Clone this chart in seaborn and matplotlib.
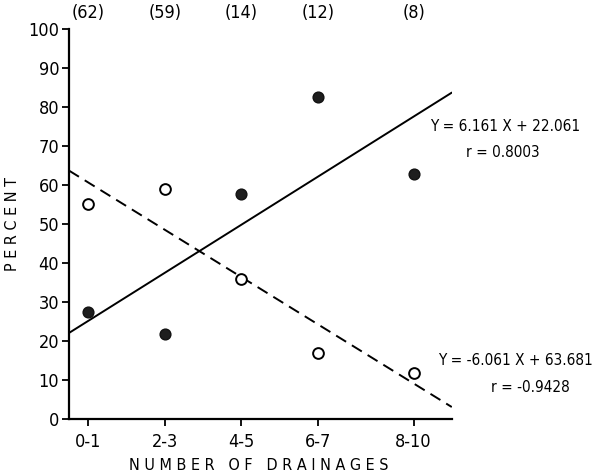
import numpy as np
import pandas as pd
import seaborn as sns
import matplotlib.pyplot as plt

categories = ["0-1", "2-3", "4-5", "6-7", "8-10"]
x_mid = [0.5, 2.5, 4.5, 6.5, 9.0]
counts = ["(62)", "(59)", "(14)", "(12)", "(8)"]
filled_pct = [27.4, 21.8, 57.7, 82.6, 62.8]
open_pct = [55.1, 59.0, 35.9, 16.9, 11.8]

fit_up = (6.161, 22.061)
fit_down = (-6.061, 63.681)


def main():
  sns.set_style("ticks")
  plt.rcParams['font.family'] = ['DejaVu Sans']
  plt.rcParams['font.stretch'] = 'condensed'
  plt.rcParams['text.color'] = 'black'
  plt.rcParams['axes.labelcolor'] = 'black'
  plt.rcParams['xtick.color'] = 'black'
  plt.rcParams['ytick.color'] = 'black'
  plt.rcParams['axes.edgecolor'] = 'black'

  fig = plt.figure(figsize=(6, 4.74), dpi=100)
  ax = fig.add_axes([0.115, 0.116, 0.638, 0.823])

  df = pd.DataFrame({"x": x_mid, "filled": filled_pct, "open": open_pct})

  xs = np.array([0, 10])
  lines = pd.DataFrame({"x": xs,
                        "up": fit_up[0] * xs + fit_up[1],
                        "down": fit_down[0] * xs + fit_down[1]})
  sns.lineplot(data=lines, x="x", y="up", ax=ax, color="black", lw=1.4)
  sns.lineplot(data=lines, x="x", y="down", ax=ax, color="black", lw=1.4)
  ax.lines[-1].set_dashes([6, 3.5])

  sns.scatterplot(data=df, x="x", y="open", ax=ax, s=60, facecolor="white",
                  edgecolor="black", linewidth=1.4, zorder=3)
  sns.scatterplot(data=df, x="x", y="filled", ax=ax, s=60, color="#1e1e1e",
                  edgecolor="#111111", linewidth=1, zorder=3)

  ax.set_xlim(0, 10)
  ax.set_ylim(0, 100)
  ax.set_xticks(x_mid)
  ax.set_xticklabels(categories, fontsize=13)
  ax.set_yticks(range(0, 101, 10))
  ax.tick_params(axis='y', labelsize=13, length=5, width=1.3, pad=2)
  ax.tick_params(axis='x', length=5, width=1.3, pad=5)
  for s in ["left", "bottom"]:
    ax.spines[s].set_linewidth(1.6)
  sns.despine(ax=ax)

  ax.set_xlabel("N U M B E R   O F   D R A I N A G E S", fontsize=11.5)
  ax.set_ylabel("P E R C E N T", fontsize=11.5)
  ax.xaxis.set_label_coords(0.495, -0.1)
  ax.yaxis.set_label_coords(-0.128, 0.5)

  for xv, c in zip(x_mid, counts):
    ax.text(xv, 104.1, c, ha="center", va="center", fontsize=13, clip_on=False)

  ax.text(0.943, 0.749, "Y = 6.161 X + 22.061", transform=ax.transAxes, ha="left", va="center", fontsize=11)
  ax.text(1.133, 0.682, "r = 0.8003", transform=ax.transAxes, ha="center", va="center", fontsize=11)
  ax.text(0.963, 0.151, "Y = -6.061 X + 63.681", transform=ax.transAxes, ha="left", va="center", fontsize=11)
  ax.text(1.204, 0.082, "r = -0.9428", transform=ax.transAxes, ha="center", va="center", fontsize=11)

  plt.savefig("out.png", dpi=100)


if __name__ == '__main__':
  main()
